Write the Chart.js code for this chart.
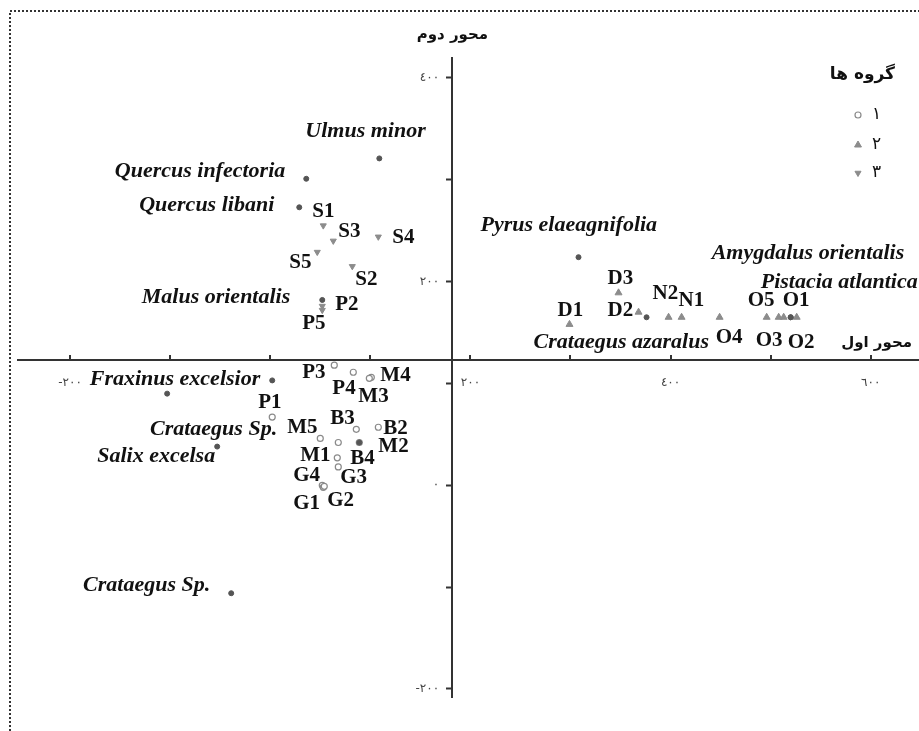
<!DOCTYPE html>
<html><head><meta charset="utf-8">
<script src="https://cdn.jsdelivr.net/npm/chart.js@4.4.1/dist/chart.umd.min.js"></script>
<style>html,body{margin:0;padding:0;background:#fff;}canvas{display:block;}</style>
</head><body>
<canvas id="c" width="919" height="731"></canvas>
<script>
// ---------- data ----------
const speciesNames = ['Ulmus minor','Quercus infectoria','Quercus libani','Pyrus elaeagnifolia','Crataegus azaralus','Amygdalus orientalis','Pistacia atlantica','Malus orientalis','Fraxinus excelsior','Crataegus Sp.','Salix excelsa','Crataegus Sp.',''];
const speciesX = [109, 36, 29, 308, 376, 520, 520, 52, 2, -103, -53, -39, 89];
const speciesY = [321, 301, 273, 224, 165, 165, 165, 182, 103, 90, 38, -106, 42];

const group1Names = ['P3','P4','M4','M3','P1','B3','B2','M5','M2','M1','B4','G3','G4','G1','G2'];
const group1X = [64, 83, 101, 99, 2, 86, 108, 50, 89, 68, 67, 68, 52, 53, 54];
const group1Y = [118, 111, 106, 105, 67, 55, 57, 46, 42, 42, 27, 18, 0, -2, -1];

const group2Names = ['D1','D3','D2','N2','N1','O4','O5','O3','O1','O2'];
const group2X = [299, 348, 368, 398, 411, 449, 496, 508, 513, 526];
const group2Y = [158, 189, 170, 165, 165, 165, 165, 165, 165, 165];

const group3Names = ['S1','S3','S4','S5','S2','P2','P5'];
const group3X = [53, 63, 108, 47, 82, 52, 52];
const group3Y = [255, 240, 244, 229, 215, 176, 172];

const legendTitle = 'گروه ها';
const legendLabels = ['١', '٢', '٣'];
const xAxisTitle = 'محور اول';
const yAxisTitle = 'محور دوم';

const xTickValues = [-200, -100, 0, 100, 200, 300, 400, 500, 600];
const xTickLabels = ['-٢٠٠', '', '', '', '٢٠٠', '', '٤٠٠', '', '٦٠٠'];
const yTickValues = [-200, -100, 0, 100, 200, 300, 400];
const yTickLabels = ['-٢٠٠', '', '٠', '', '٢٠٠', '', '٤٠٠'];

// ---------- label placement (pixels relative to each point) ----------
const speciesLabelPos = [[-74,-27,'left'],[-21,-7,'right'],[-25,-2,'right'],[-98,-32,'left'],[-113,25,'left'],[-79,-64,'left'],[-30,-35,'left'],[-32,-3,'right'],[-12,-1,'right'],[110,36,'right'],[-2,10,'right'],[-21,-8,'right'],[0,0,'left']];
const group1LabelPos = [[-32,7],[-21,16],[9,-2],[-11,18],[-14,-14],[-26,-11],[5,1],[-33,-11],[19,4],[-38,13],[13,1],[2,11],[-29,-10],[-30,16],[3,14]];
const group2LabelPos = [[-12,-14],[-11,-14],[-31,-2],[-16,-24],[-3,-17],[-4,20],[-19,-17],[-23,23],[-1,-17],[-9,25]];
const group3LabelPos = [[-11,-14],[5,-9],[14,1],[-28,10],[3,13],[13,-1],[-20,13]];

const toPts = (xs, ys) => xs.map((x, i) => ({x, y: ys[i]}));

const datasets = [
  {label:'species', data: toPts(speciesX, speciesY), pointStyle:'circle', pointRadius:2.5,
   pointBackgroundColor:'#555', pointBorderColor:'#555', pointBorderWidth:1,
   names: speciesNames, labelPos: speciesLabelPos, labelFont:'italic bold 22px "Liberation Serif"'},
  {label:'1', data: toPts(group1X, group1Y), pointStyle:'circle', pointRadius:3,
   pointBackgroundColor:'#fff', pointBorderColor:'#8a8a8a', pointBorderWidth:1.2,
   names: group1Names, labelPos: group1LabelPos, labelFont:'bold 21px "Liberation Serif"'},
  {label:'2', data: toPts(group2X, group2Y), pointStyle:'triangle', pointRadius:4,
   pointBackgroundColor:'#8c8c8c', pointBorderColor:'#8c8c8c', pointBorderWidth:1,
   names: group2Names, labelPos: group2LabelPos, labelFont:'bold 21px "Liberation Serif"'},
  {label:'3', data: toPts(group3X, group3Y), pointStyle:'triangle', pointRotation:180, pointRadius:3.5,
   pointBackgroundColor:'#8c8c8c', pointBorderColor:'#8c8c8c', pointBorderWidth:1,
   names: group3Names, labelPos: group3LabelPos, labelFont:'bold 21px "Liberation Serif"'}
];

function drawMarker(ctx, ds, x, y) {
  ctx.save();
  ctx.fillStyle = ds.pointBackgroundColor;
  ctx.strokeStyle = ds.pointBorderColor;
  ctx.lineWidth = ds.pointBorderWidth;
  const opts = {pointStyle: ds.pointStyle, rotation: ds.pointRotation || 0, radius: ds.pointRadius, borderWidth: ds.pointBorderWidth};
  if (Chart.helpers && Chart.helpers.drawPoint) {
    Chart.helpers.drawPoint(ctx, opts, x, y);
  } else {
    ctx.beginPath(); ctx.arc(x, y, ds.pointRadius, 0, Math.PI*2); ctx.fill(); ctx.stroke();
  }
  ctx.restore();
}

const decor = {
  id: 'decor',
  beforeDraw(chart) {
    const ctx = chart.ctx;
    ctx.save();
    ctx.fillStyle = '#fff';
    ctx.fillRect(0, 0, chart.width, chart.height);
    ctx.strokeStyle = '#333';
    ctx.lineWidth = 2;
    ctx.setLineDash([2, 2]);
    ctx.beginPath();
    ctx.moveTo(10, chart.height); ctx.lineTo(10, 11); ctx.lineTo(chart.width, 11);
    ctx.stroke();
    ctx.restore();
  },
  afterDatasetsDraw(chart) {
    const ctx = chart.ctx;
    ctx.save();
    ctx.fillStyle = '#111';
    ctx.textBaseline = 'middle';
    chart.data.datasets.forEach((ds, di) => {
      const meta = chart.getDatasetMeta(di);
      ctx.font = ds.labelFont;
      meta.data.forEach((el, i) => {
        const name = ds.names[i];
        if (!name) return;
        const p = ds.labelPos[i];
        ctx.textAlign = p[2] || 'left';
        ctx.fillText(name, el.x + p[0], el.y + p[1]);
      });
    });
    ctx.restore();
  },
  afterDraw(chart) {
    const ctx = chart.ctx;
    const xs = chart.scales.x, ys = chart.scales.y;
    const axisY = Math.round(ys.getPixelForValue(chart.options.scales.x.position.y));
    const axisX = xs.getPixelForValue(chart.options.scales.y.position.x);
    ctx.save();
    // extend horizontal axis to the right edge, as in the reference
    ctx.strokeStyle = '#333';
    ctx.lineWidth = 2;
    ctx.beginPath(); ctx.moveTo(chart.chartArea.right - 1, axisY); ctx.lineTo(chart.width, axisY); ctx.stroke();
    // upward tick marks on the horizontal axis
    xs.ticks.forEach(t => {
      const px = Math.round(xs.getPixelForValue(t.value));
      ctx.beginPath(); ctx.moveTo(px, axisY); ctx.lineTo(px, axisY - 5); ctx.stroke();
    });
    // axis titles
    ctx.fillStyle = '#111';
    ctx.font = 'bold 15px "DejaVu Sans"';
    ctx.textBaseline = 'middle';
    ctx.direction = 'rtl';
    ctx.textAlign = 'center';
    ctx.fillText(yAxisTitle, axisX, chart.chartArea.top - 23);
    ctx.textAlign = 'right';
    ctx.fillText(xAxisTitle, chart.width - 7, axisY - 17);
    // legend
    const lx = chart.width - 24;
    ctx.font = 'bold 17px "DejaVu Sans"';
    ctx.fillText(legendTitle, lx, 75);
    ctx.direction = 'ltr';
    ctx.font = '17px "DejaVu Sans"';
    ctx.textAlign = 'left';
    const rows = [115, 145, 173];
    legendLabels.forEach((lab, i) => {
      const ds = chart.data.datasets[i + 1];
      drawMarker(ctx, ds, lx - 37, rows[i]);
      ctx.fillStyle = '#111';
      ctx.fillText(lab, lx - 23, rows[i]);
    });
    ctx.restore();
  }
};

new Chart(document.getElementById('c'), {
  type: 'scatter',
  data: {datasets},
  options: {
    responsive: false,
    animation: false,
    devicePixelRatio: 1,
    layout: {padding: {left: 18, top: 58, right: 0, bottom: 34}},
    plugins: {legend: {display: false}, tooltip: {enabled: false}, title: {display: false}},
    scales: {
      x: {
        type: 'linear', min: -252, max: 643, position: {y: 123.5},
        afterBuildTicks: s => { s.ticks = xTickValues.map(v => ({value: v})); },
        grid: {drawOnChartArea: false, drawTicks: false},
        border: {display: true, color: '#333', width: 2},
        ticks: {autoSkip: false, maxRotation: 0, padding: 16, color: '#444',
                font: {family: 'DejaVu Sans', size: 12},
                callback: (v) => xTickLabels[xTickValues.indexOf(v)] ?? ''}
      },
      y: {
        type: 'linear', min: -207.9, max: 419.6, position: {x: 182},
        afterBuildTicks: s => { s.ticks = yTickValues.map(v => ({value: v})); },
        grid: {drawOnChartArea: false, drawTicks: true, tickLength: 5, tickWidth: 2, tickColor: '#333'},
        border: {display: true, color: '#333', width: 2},
        ticks: {autoSkip: false, padding: 5, color: '#444',
                font: {family: 'DejaVu Sans', size: 12},
                callback: (v) => { const s = yTickLabels[yTickValues.indexOf(v)] ?? ''; return s ? s + '\u2002\u2002\u200A' : ''; }}
      }
    }
  },
  plugins: [decor]
});
</script>
</body></html>
